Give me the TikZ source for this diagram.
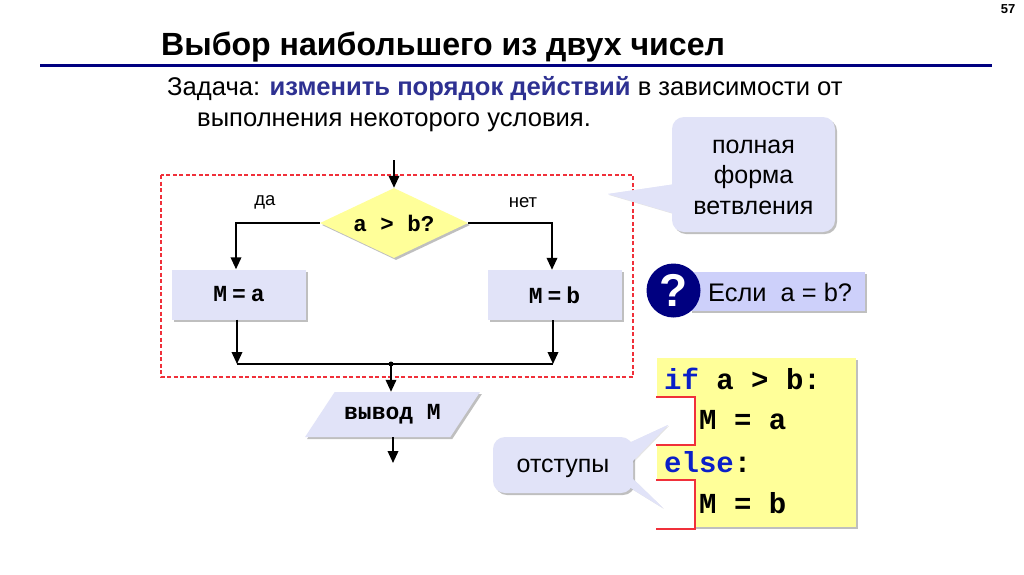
\documentclass[tikz,border=0pt]{standalone}
\usepackage{fontspec}
\setmainfont{Liberation Sans}
\setmonofont{Liberation Mono}
\usetikzlibrary{positioning,arrows.meta,shapes.geometric,shadows}
\definecolor{bubble}{HTML}{E1E3F8}
\definecolor{question}{HTML}{CDD0FA}
\definecolor{pale}{HTML}{FFFF99}
\definecolor{navy}{HTML}{000080}
\definecolor{keyword}{HTML}{0A1FC8}
\definecolor{accent}{HTML}{2E3192}
\definecolor{redline}{HTML}{F0303A}
\newcommand{\fsz}[2]{\fontsize{#1}{#2}\selectfont}
\tikzset{
  softshadow/.style = {drop shadow={shadow xshift=2pt,shadow yshift=-2pt,fill=black,opacity=0.25}},
  tailshadow/.style = {drop shadow={shadow xshift=1pt,shadow yshift=-1pt,fill=black,opacity=0.10}},
  blk/.style    = {fill=bubble, minimum width=134pt, minimum height=50pt, inner sep=0pt,
                   softshadow, font=\ttfamily\bfseries\fsz{23}{24}},
  talk/.style   = {fill=bubble, rounded corners=12pt, inner sep=0pt, softshadow},
  talktext/.style = {inner sep=0pt, align=center, font=\fsz{25}{30.5}},
  tail/.style   = {fill=bubble},
  lbl/.style    = {font=\fsz{18.5}{20}, inner sep=0pt},
  code/.style   = {anchor=west, inner sep=0pt, font=\ttfamily\bfseries\fsz{29}{30}},
  flow/.style   = {-{Triangle[length=12pt,width=10.5pt]}, draw=black, line width=2pt},
  joinline/.style = {draw=black, line width=2pt},
  indent/.style = {draw=redline, line width=1.2pt, fill=white},
}
\begin{document}
\begin{tikzpicture}[x=1pt,y=-1pt]
  \fill[white] (0,0) rectangle (1024,574);
  \useasboundingbox (0,0) rectangle (1024,574);
  % heading
  \node[inner sep=0pt,font=\bfseries\fsz{13}{14}] (pagenum) at (1008,9) {57};
  \node[anchor=west,inner sep=0pt,font=\bfseries\fsz{32.1}{34}] (title) at (161,47) {Выбор наибольшего из двух чисел};
  \coordinate (ruleL) at (40,65);
  \coordinate (ruleR) at (992,65);
  \draw[navy,line width=3pt] (ruleL) -- (ruleR);
  \node[anchor=west,inner sep=0pt,font=\fsz{25.6}{28}] (task) at (167,89)
    {Задача: \textcolor{accent}{\bfseries изменить порядок действий} в зависимости от};
  \node[anchor=west,inner sep=0pt,font=\fsz{25.6}{28}] (task2) at (197,122) {выполнения некоторого условия.};
  % dashed frame
  \draw[redline,dash pattern=on 4pt off 2.5pt,line width=1.2pt] (161,175) rectangle (633,377);
  % flowchart
  \coordinate (entry) at (394,160);
  \node[diamond,fill=pale,softshadow,minimum width=148pt,minimum height=70pt,aspect=2.1,inner sep=0pt,
        font=\ttfamily\bfseries\fsz{22.5}{24}] (cond) at (394,223) {a > b?};
  \node[blk] (boxa) at (239,294.5) {M\hspace{5pt}=\hspace{5pt}a};
  \node[blk] (boxb) at (554.5,295) {M\hspace{5pt}=\hspace{5pt}b};
  \node[lbl] (yes) at (265,202) {да};
  \node[lbl] (no) at (523,203) {нет};
  \coordinate (joinA) at (237,364);
  \coordinate (joinB) at (553,364);
  \coordinate (joinC) at (391,364);
  \node[trapezium,trapezium left angle=38.5,trapezium right angle=141.5,trapezium stretches=true,
        fill=bubble,softshadow,minimum width=175pt,minimum height=45pt,inner sep=0pt,
        font=\ttfamily\bfseries\fsz{23}{24}] (output) at (392.5,414.5) {\raisebox{-2pt}{вывод M}};
  \coordinate (exit) at (393,463);
  \draw[flow] (entry) -- (cond.north);
  \draw[flow] (cond.west) -| ([xshift=-3pt]boxa.north);
  \draw[flow] (cond.east) -| ([xshift=-2.5pt]boxb.north);
  \draw[flow] (boxa.south -| joinA) -- (joinA);
  \draw[flow] (boxb.south -| joinB) -- (joinB);
  \draw[joinline] (joinA) -- (joinB);
  \fill (joinC) circle (2.5pt);
  \draw[flow] (joinC) -- (output.north -| joinC);
  \draw[flow] (output.south -| exit) -- (exit);
  % callout, upper right
  \fill[tail,tailshadow] (676,184) -- (608,194) -- (676,214) -- cycle;
  \node[talk,minimum width=163pt,minimum height=115pt] (full) at (753.5,174.5) {};
  \fill[tail] (676,184) -- (608,194) -- (676,214) -- cycle;
  \node[talktext] (fulltext) at (753.5,177) {полная\\форма\\ветвления};
  % question
  \node[fill=question,softshadow,minimum width=175pt,minimum height=39pt,inner sep=0pt] (ifbox) at (777.5,291.5) {};
  \node[anchor=west,inner sep=0pt,font=\fsz{25.4}{28}] (iftext) at (708,292) {Если\ \ a = b?};
  \node[circle,fill=navy,minimum size=54pt,inner sep=0pt,text=white,font=\bfseries\fsz{46}{48}] (mark) at (673.5,290.5) {?};
  % code
  \node[fill=pale,softshadow,minimum width=199pt,minimum height=169pt,inner sep=0pt] (listing) at (756.5,442.5) {};
  \draw[indent] (656,397) -- (695,397) -- (695,445) -- (656,445);
  \draw[indent] (656,480) -- (695,480) -- (695,529) -- (656,529);
  \node[code] (l1) at (664,379) {\textcolor{keyword}{if} a > b:};
  \node[code] (l2) at (699,420) {M = a};
  \node[code] (l3) at (664,462) {\textcolor{keyword}{else}:};
  \node[code] (l4) at (699,503) {M = b};
  % callout, indents
  \fill[tail,tailshadow] (629,443) -- (668,425) -- (629,465) -- cycle;
  \fill[tail,tailshadow] (629,475) -- (663,508) -- (629,487) -- cycle;
  \node[talk,minimum width=140pt,minimum height=56pt] (indents) at (563,465) {};
  \fill[tail] (629,443) -- (668,425) -- (629,465) -- cycle;
  \fill[tail] (629,475) -- (663,508) -- (629,487) -- cycle;
  \node[talktext] (indenttext) at (563,468) {отступы};
\end{tikzpicture}
\end{document}
